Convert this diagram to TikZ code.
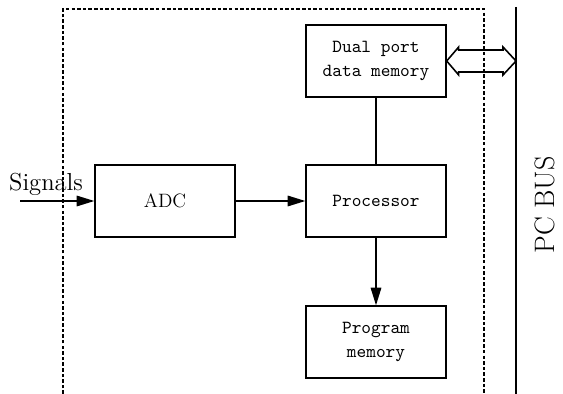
\documentclass[tikz,border=0pt]{standalone}
\usepackage{tikz}
\usetikzlibrary{arrows.meta,positioning,calc}

\begin{document}
\begin{tikzpicture}[
  x=0.02cm, y=-0.02cm,
  blk/.style  ={draw, line width=0.8pt, rectangle,
                minimum width=2.8cm, minimum height=1.44cm,
                align=center, font=\fontsize{10.5}{13.5}\selectfont\ttfamily},
  frame/.style={dash pattern=on 2pt off 1.2pt, line width=0.6pt},
  arr/.style  ={-{Triangle[length=10pt,width=6pt]}, line width=0.8pt},
  busln/.style={line width=1.3pt}
]
\useasboundingbox (0,0) rectangle (563,394);

%% ── board outline ────────────────────────────────────────────────────
\draw[frame] (63,394) -- (63,9) -- (484,9) -- (484,394);

%% ── PC bus ───────────────────────────────────────────────────────────
\coordinate (bustop) at (516,7);
\coordinate (busbot) at (516,394);
\draw[busln] (bustop) -- (busbot);
\node[rotate=90, font=\fontsize{16}{19}\selectfont] (buslbl) at (545,205) {PC BUS};

%% ── blocks ───────────────────────────────────────────────────────────
\node[blk] (dpm)  at (376,61)  {Dual port\\data memory};
\node[blk] (proc) at (376,201) {Processor};
\node[blk] (pmem) at (376,342) {Program\\memory};
\node[blk, font=\fontsize{11}{13}\selectfont] (adc) at (165,201) {ADC};

%% ── signal input ─────────────────────────────────────────────────────
\coordinate (sigin) at (20,201);
\node[font=\fontsize{14}{16}\selectfont] (siglbl) at (46,184) {Signals};
\draw[arr] (sigin) -- (adc.west);

%% ── connections ──────────────────────────────────────────────────────
\draw[arr] (adc.east) -- (proc.west);
\draw[line width=0.8pt] (dpm.south) -- (proc.north);
\draw[arr] (proc.south) -- (pmem.north);

%% ── bus port (hollow double arrow) ───────────────────────────────────
\coordinate (bustap) at (dpm.east -| bustop);
\draw[line width=0.9pt]
  (dpm.east) -- ++(12,-14) -- ++(0,3) -- ($(bustap)+(-13,-11)$)
  -- ++(0,-3) -- (bustap) -- ++(-13,14) -- ++(0,-3)
  -- ($(dpm.east)+(12,11)$) -- ++(0,3) -- cycle;

\end{tikzpicture}
\end{document}
